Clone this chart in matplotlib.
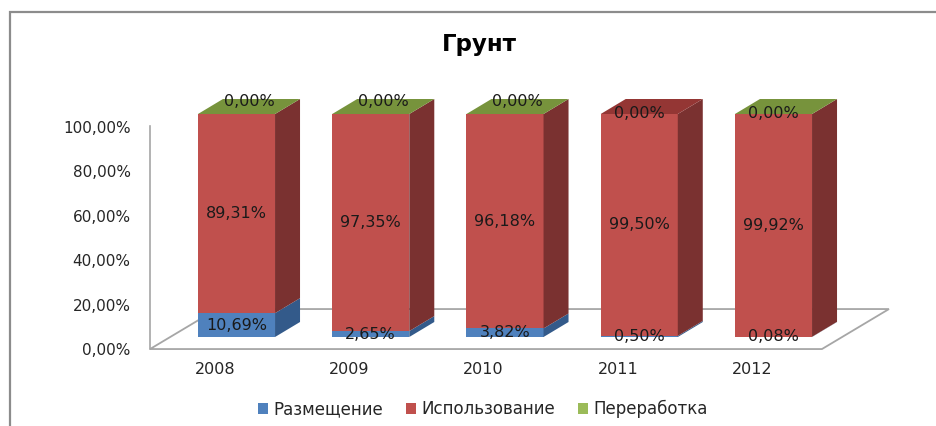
import matplotlib
matplotlib.use("Agg")
import matplotlib.pyplot as plt
from matplotlib.patches import Polygon, Patch, Rectangle
from matplotlib.ticker import FuncFormatter

# ---------------- data ----------------
years = ['2008', '2009', '2010', '2011', '2012']
razmeshchenie = [10.69, 2.65, 3.82, 0.50, 0.08]      # Размещение
ispolzovanie = [89.31, 97.35, 96.18, 99.50, 99.92]   # Использование
pererabotka = [0.00, 0.00, 0.00, 0.00, 0.00]         # Переработка
series_names = ['Размещение', 'Использование', 'Переработка']
y_ticks = [0, 20, 40, 60, 80, 100]
title = 'Грунт'

# ---------------- style ----------------
front_cols = ['#4F81BD', '#C0504D', '#9BBB59']
side_cols = ['#335A8A', '#7A3130', '#5F7530']
top_cols = ['#3E6CA5', '#943634', '#77933C']
legend_cols = ['#4F81BD', '#C0504D', '#9BBB59']
top_face_series = [2, 2, 2, 1, 2]          # colour of top face per column
label_on_top_face = [True, True, True, False, False]

W, H = 936, 426
PX_CAT = 134.25      # px per category
PX_PCT = 2.23        # px per percent
X0_PX = 236.5        # px of first bar centre
Y0_PX = 337          # px (from top) of bar base
bar_w = 0.574
depth_dx = 25 / PX_CAT
depth_dy = 15 / PX_PCT

fig = plt.figure(figsize=(W / 100, H / 100), dpi=100)
fig.patch.set_facecolor('white')

ax = fig.add_axes([0, 0, 1, 1])
ax.set_xlim(-X0_PX / PX_CAT, (W - X0_PX) / PX_CAT)
ax.set_ylim((Y0_PX - H) / PX_PCT, Y0_PX / PX_PCT)
ax.axis('off')
ax.patch.set_alpha(0)

# chart border (extends beyond the right/bottom edge)
fig.add_artist(Rectangle((10 / W, -0.2), 2, 1 - 12 / H + 0.2, transform=fig.transFigure,
                         fill=False, edgecolor='#8C8C8C', lw=1.6))

fig.text(479 / W, 1 - 44 / H, title, ha='center', va='center', fontsize=16.5,
         fontweight='bold', family='DejaVu Sans', color='black')

# floor
n = len(years)
floor_front = -5.4
floor_back = floor_front + 40 / PX_PCT
floor_left = -0.644
floor_right = n - 1 + 0.361
floor_dx = 67 / PX_CAT
floor = Polygon([(floor_left, floor_front), (floor_right, floor_front),
                 (floor_right + floor_dx, floor_back), (floor_left + floor_dx, floor_back)],
                closed=True, facecolor='white', edgecolor='#A6A6A6', lw=1.3, zorder=1)
ax.add_patch(floor)

# y tick axis (back wall)
tax = fig.add_axes([150 / W, (H - 349) / H, 0.001, (349 - 126) / H])
tax.set_ylim(0, 100.5)
tax.set_yticks(y_ticks)
tax.yaxis.set_major_formatter(FuncFormatter(lambda v, p: f'{v:.2f}%'.replace('.', ',')))
tax.tick_params(axis='y', length=0, pad=14, labelsize=11, labelcolor='#262626')
tax.set_xticks([])
for s in ['top', 'right', 'bottom']:
    tax.spines[s].set_visible(False)
tax.spines['left'].set_color('#A6A6A6')
tax.spines['left'].set_linewidth(1.2)
tax.patch.set_alpha(0)

# bars
series = [razmeshchenie, ispolzovanie, pererabotka]
bottoms = [0.0] * n
for k, vals in enumerate(series):
    ax.bar(range(n), vals, bar_w, bottom=bottoms, color=front_cols[k], lw=0, zorder=3)
    for i, v in enumerate(vals):
        xr = i + bar_w / 2
        b, t = bottoms[i], bottoms[i] + v
        if v > 0:
            ax.add_patch(Polygon([(xr, b), (xr + depth_dx, b + depth_dy),
                                  (xr + depth_dx, t + depth_dy), (xr, t)],
                                 closed=True, facecolor=side_cols[k], lw=0, zorder=3))
    bottoms = [bottoms[i] + vals[i] for i in range(n)]

for i in range(n):
    top = bottoms[i]
    xl, xr = i - bar_w / 2, i + bar_w / 2
    ax.add_patch(Polygon([(xl, top), (xr, top), (xr + depth_dx, top + depth_dy),
                          (xl + depth_dx, top + depth_dy)], closed=True,
                         facecolor=top_cols[top_face_series[i]], lw=0, zorder=3))

# data labels
def fmt(v):
    return f'{v:.2f}%'.replace('.', ',')

bottoms = [0.0] * n
for k, vals in enumerate(series):
    for i, v in enumerate(vals):
        if k == 2:
            if label_on_top_face[i]:
                x, y = i + depth_dx / 2, bottoms[i] + depth_dy * 0.85
            else:
                x, y = i, bottoms[i]
        else:
            x, y = i, bottoms[i] + v / 2
        ax.text(x, y, fmt(v), ha='center', va='center', fontsize=11.5,
                color='#1A1A1A', zorder=5)
    bottoms = [bottoms[i] + vals[i] for i in range(n)]

# category labels
for i, yr in enumerate(years):
    ax.text(i - 0.16, (Y0_PX - 370) / PX_PCT, yr, ha='center', va='center',
            fontsize=11.5, color='#262626')

handles = [Patch(facecolor=c, edgecolor='none') for c in legend_cols]
fig.legend(handles, series_names, loc='center', bbox_to_anchor=(483 / W, 1 - 409 / H),
           ncol=3, frameon=False, fontsize=12, handlelength=0.6, handleheight=0.6,
           handletextpad=0.3, columnspacing=1.4, labelcolor='#262626')

fig.savefig('out.png', dpi=100)
